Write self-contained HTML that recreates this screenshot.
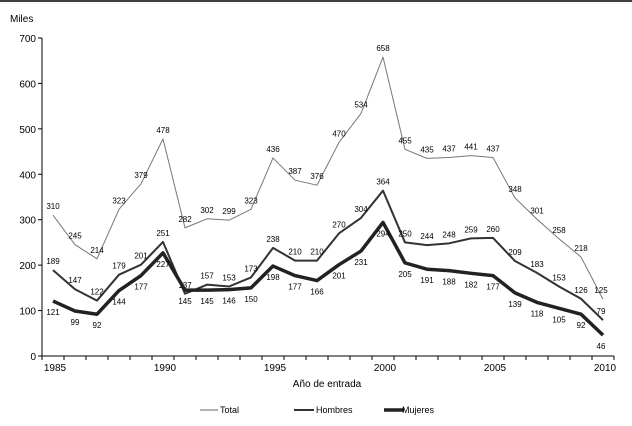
<!DOCTYPE html>
<html><head><meta charset="utf-8"><style>
body{margin:0;background:#fff;font-family:"Liberation Sans",sans-serif}
svg text{font-family:"Liberation Sans",sans-serif}
</style></head><body>
<svg id="c" width="632" height="421" xmlns="http://www.w3.org/2000/svg">
<line x1="0" y1="1" x2="632" y2="1" stroke="#000" stroke-width="1.5"/>
<text x="10" y="22" font-size="10">Miles</text>
<text x="327" y="387" font-size="10" text-anchor="middle">Año de entrada</text>
<g id="g"></g>
<g>
<line x1="200" y1="410" x2="218" y2="410" stroke="#666" stroke-width="1"/>
<text x="220" y="413" font-size="9">Total</text>
<line x1="294" y1="410" x2="314" y2="410" stroke="#333" stroke-width="2"/>
<text x="316" y="413" font-size="9">Hombres</text>
<line x1="384" y1="410" x2="404" y2="410" stroke="#222" stroke-width="3.5"/>
<text x="402" y="413" font-size="9">Mujeres</text>
</g>
</svg>
<script>
const years=[1985,1986,1987,1988,1989,1990,1991,1992,1993,1994,1995,1996,1997,1998,1999,2000,2001,2002,2003,2004,2005,2006,2007,2008,2009,2010];
const total=[310,245,214,323,379,478,282,302,299,323,436,387,376,470,534,658,455,435,437,441,437,348,301,258,218,125];
const hombres=[189,147,122,179,201,251,137,157,153,173,238,210,210,270,304,364,250,244,248,259,260,209,183,153,126,79];
const mujeres=[121,99,92,144,177,227,145,145,146,150,198,177,166,201,231,294,205,191,188,182,177,139,118,105,92,46];
const yTicks=[0,100,200,300,400,500,600,700];
const xLabels=[1985,1990,1995,2000,2005,2010];
const NS="http://www.w3.org/2000/svg",g=document.getElementById('g');
const x=i=>53+i*22, y=v=>356-v*318/700;
function mk(t,a,p){const e=document.createElementNS(NS,t);for(const k in a)e.setAttribute(k,a[k]);(p||g).appendChild(e);return e;}
let e=mk('line',{x1:42,y1:38,x2:42,y2:356,stroke:'#000'});


e=mk('line',{x1:42,y1:356,x2:614,y2:356,stroke:'#000'});


yTicks.forEach(v=>{
 let l=mk('line',{x1:38,x2:42,y1:y(v),y2:y(v),stroke:'#000'});
 
 
 let t=mk('text',{x:36,y:y(v)+4,'font-size':10,'text-anchor':'end'});t.textContent=v;
 
 
});
for(let i=0;i<=years.length;i++){
 let l=mk('line',{x1:x(i)-11,x2:x(i)-11,y1:356,y2:360,stroke:'#000'});
 
 
}
xLabels.forEach(yr=>{
 let t=mk('text',{x:x(years.indexOf(yr))+2,y:371,'font-size':10,'text-anchor':'middle'});t.textContent=yr;
 
 
});
function series(d,col,w,name,dy){
 let p=mk('polyline',{points:d.map((v,i)=>x(i)+','+y(v)).join(' '),fill:'none',stroke:col,'stroke-width':w,'stroke-linejoin':'round'});
 
 
 d.forEach((v,i)=>{let t=mk('text',{x:x(i)+(i==25?-2:0),y:y(v)+dy,'font-size':8,'text-anchor':'middle'});t.textContent=v;
 
 });
}
series(total,'#777',1,'total',-6);
series(hombres,'#333',2,'hombres',-6);
series(mujeres,'#222',3.5,'mujeres',14);
</script>
</body></html>
